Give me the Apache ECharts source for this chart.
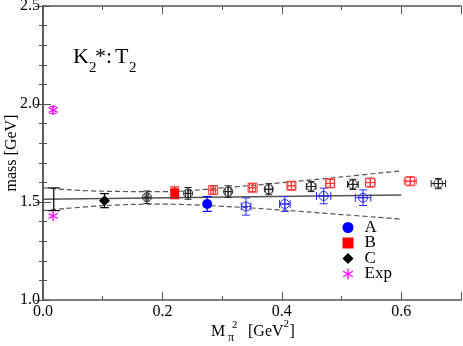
<!DOCTYPE html>
<html>
<head>
<meta charset="utf-8">
<script src="https://cdn.jsdelivr.net/npm/echarts@6/dist/echarts.min.js"></script>
<style>
html,body{margin:0;padding:0;background:#fff;}
#chart{width:463px;height:346px;}
</style>
</head>
<body>
<div id="chart"></div>
<script>
// chiral fit (solid) and its error band (dashed)
var fitX = [0, 0.6];
var fitY = [1.514, 1.536];
var bandX = [0, 0.1, 0.2, 0.3, 0.4, 0.5, 0.6];
var bandUp = [1.572, 1.555, 1.553, 1.572, 1.599, 1.628, 1.659];
var bandLo = [1.456, 1.481, 1.489, 1.478, 1.459, 1.436, 1.413];

// extrapolated value at the physical point
var physX = [0.018];
var physY = [1.514];
var physErr = [0.058];

// filled symbols
var aX = [0.275], aY = [1.490], aErr = [0.038];
var bX = [0.2205], bY = [1.547], bErr = [0.030];
var cX = [0.103], cY = [1.507], cErr = [0.036];
var expX = [0.017, 0.017], expY = [1.969, 1.429], expErr = [0.018, 0];

// open symbols (with x errors)
var oaX = [0.340, 0.405, 0.470, 0.536];
var oaY = [1.477, 1.490, 1.531, 1.522];
var oaDx = [0.008, 0.009, 0.012, 0.013];
var oaDy = [0.044, 0.038, 0.040, 0.040];

var obX = [0.285, 0.351, 0.416, 0.481, 0.548, 0.615];
var obY = [1.561, 1.573, 1.583, 1.595, 1.599, 1.606];
var obDx = [0.004, 0.005, 0.006, 0.007, 0.008, 0.010];
var obDy = [0.020, 0.020, 0.020, 0.020, 0.020, 0.020];

var ocX = [0.174, 0.243, 0.310, 0.378, 0.449, 0.519, 0.662];
var ocY = [1.524, 1.544, 1.553, 1.565, 1.579, 1.590, 1.594];
var ocDx = [0.003, 0.004, 0.005, 0.006, 0.008, 0.009, 0.012];
var ocDy = [0.032, 0.030, 0.030, 0.028, 0.026, 0.026, 0.026];

var serif = "'Liberation Serif', 'DejaVu Serif', serif";
var axisColor = '#555';
var astPath = 'path://M4.4,0L5.6,0L5.6,10L4.4,10Z' +
    'M0.97,1.98L9.63,6.98L9.03,8.02L0.37,3.02Z' +
    'M0.37,6.98L9.03,1.98L9.63,3.02L0.97,8.02Z';

function pack(xs, ys, dxs, dys) {
    return xs.map(function (x, i) {
        return [x, ys[i], dxs ? dxs[i] : 0, dys[i]];
    });
}

function errRender(color, marker, cap, lw) {
    return function (params, api) {
        var x = api.value(0), y = api.value(1), dx = api.value(2), dy = api.value(3);
        var c = api.coord([x, y]);
        var st = {stroke: color, lineWidth: lw, fill: null};
        var ch = [];
        if (dy > 0) {
            var t = api.coord([x, y + dy])[1], b = api.coord([x, y - dy])[1];
            ch.push({type: 'line', shape: {x1: c[0], y1: t, x2: c[0], y2: b}, style: st});
            ch.push({type: 'line', shape: {x1: c[0] - cap, y1: t, x2: c[0] + cap, y2: t}, style: st});
            ch.push({type: 'line', shape: {x1: c[0] - cap, y1: b, x2: c[0] + cap, y2: b}, style: st});
        }
        if (dx > 0) {
            var l = api.coord([x - dx, y])[0], r = api.coord([x + dx, y])[0];
            ch.push({type: 'line', shape: {x1: l, y1: c[1], x2: r, y2: c[1]}, style: st});
            ch.push({type: 'line', shape: {x1: l, y1: c[1] - cap, x2: l, y2: c[1] + cap}, style: st});
            ch.push({type: 'line', shape: {x1: r, y1: c[1] - cap, x2: r, y2: c[1] + cap}, style: st});
        }
        if (marker === 'circle') {
            ch.push({type: 'circle', shape: {cx: c[0], cy: c[1], r: 4.5}, style: st});
            ch.push({type: 'line', shape: {x1: c[0] - 4.5, y1: c[1], x2: c[0] + 4.5, y2: c[1]}, style: st});
            ch.push({type: 'line', shape: {x1: c[0], y1: c[1] - 4.5, x2: c[0], y2: c[1] + 4.5}, style: st});
        } else if (marker === 'square') {
            ch.push({type: 'rect', shape: {x: c[0] - 4.5, y: c[1] - 4.5, width: 9, height: 9}, style: st});
            ch.push({type: 'line', shape: {x1: c[0] - 4.5, y1: c[1], x2: c[0] + 4.5, y2: c[1]}, style: st});
            ch.push({type: 'line', shape: {x1: c[0], y1: c[1] - 4.5, x2: c[0], y2: c[1] + 4.5}, style: st});
        }
        return {type: 'group', children: ch};
    };
}

function errSeries(data, color, marker, cap, lw) {
    return {
        type: 'custom',
        renderItem: errRender(color, marker, cap, lw),
        data: data,
        encode: {x: 0, y: 1},
        silent: true,
        z: 3
    };
}

function axisLine() {
    return {show: true, lineStyle: {color: axisColor, width: 1.6}};
}

var xBase = {type: 'value', min: 0, max: 0.7, splitLine: {show: false}};

var chart = echarts.init(document.getElementById('chart'));
var option = {
    animation: false,
    backgroundColor: '#fff',
    grid: {left: 43, right: 2, top: 6, bottom: 46, containLabel: false, outerBoundsMode: 'none'},
    xAxis: [
        Object.assign({}, xBase, {
            position: 'bottom', interval: 0.1,
            axisLine: axisLine(),
            axisTick: {inside: true, length: 4, lineStyle: {color: axisColor}},
            axisLabel: {
                margin: 4, color: '#000', fontFamily: serif, fontSize: 16,
                formatter: function (v) {
                    var k = Math.round(v * 10);
                    return (k % 2 === 0 && k < 7) ? (k / 10).toFixed(1) : '';
                }
            }
        }),
        Object.assign({}, xBase, {
            position: 'bottom', interval: 0.2,
            axisLine: {show: false},
            axisTick: {inside: true, length: 8, lineStyle: {color: axisColor}},
            axisLabel: {show: false}
        }),
        Object.assign({}, xBase, {
            position: 'top', interval: 0.1,
            axisLine: axisLine(),
            axisTick: {inside: true, length: 4, lineStyle: {color: axisColor}},
            axisLabel: {show: false}
        }),
        Object.assign({}, xBase, {
            position: 'top', interval: 0.2,
            axisLine: {show: false},
            axisTick: {inside: true, length: 8, lineStyle: {color: axisColor}},
            axisLabel: {show: false}
        })
    ],
    yAxis: [
        {
            type: 'value', min: 1, max: 2.5, interval: 0.5, position: 'left',
            axisLine: axisLine(),
            axisTick: {inside: true, length: 8, lineStyle: {color: axisColor}},
            minorTick: {show: true, splitNumber: 5, length: 4, lineStyle: {color: axisColor}},
            splitLine: {show: false},
            axisLabel: {
                margin: 3, color: '#000', fontFamily: serif, fontSize: 16,
                formatter: function (v) { return v.toFixed(1); }
            },
            name: 'mass [GeV]', nameLocation: 'middle', nameGap: 23, nameMoveOverlap: false,
            nameTextStyle: {color: '#000', fontFamily: serif, fontSize: 16}
        },
        {
            type: 'value', min: 1, max: 2.5, interval: 0.5, position: 'right',
            axisLine: axisLine(),
            axisTick: {inside: true, length: 8, lineStyle: {color: axisColor}},
            minorTick: {show: true, splitNumber: 5, length: 4, lineStyle: {color: axisColor}},
            splitLine: {show: false},
            axisLabel: {show: false}
        }
    ],
    legend: {
        data: [
            {name: 'A', icon: 'circle'},
            {name: 'B', icon: 'rect'},
            {name: 'C', icon: 'diamond'},
            {name: 'Exp', icon: astPath}
        ],
        orient: 'vertical', left: 342.5, top: 219, padding: 0,
        itemWidth: 11, itemHeight: 11, itemGap: -1.5,
        selectedMode: false,
        textStyle: {color: '#000', fontFamily: serif, fontSize: 17, padding: [0, 0, 0, 6]}
    },
    graphic: [
        {type: 'group', silent: true, children: [
            {type: 'text', x: 73, y: 57.5, style: {text: 'K', font: '22px ' + serif, fill: '#000', verticalAlign: 'middle'}},
            {type: 'text', x: 89, y: 68, style: {text: '2', font: '15px ' + serif, fill: '#000', verticalAlign: 'middle'}},
            {type: 'text', x: 95, y: 57.5, style: {text: '*:', font: '22px ' + serif, fill: '#000', verticalAlign: 'middle'}},
            {type: 'text', x: 115, y: 57.5, style: {text: 'T', font: '22px ' + serif, fill: '#000', verticalAlign: 'middle'}},
            {type: 'text', x: 129, y: 68, style: {text: '2', font: '15px ' + serif, fill: '#000', verticalAlign: 'middle'}},

            {type: 'text', x: 211, y: 331.5, style: {text: 'M', font: '16px ' + serif, fill: '#000', verticalAlign: 'middle'}},
            {type: 'text', x: 228, y: 338, style: {text: 'π', font: '12px ' + serif, fill: '#000', verticalAlign: 'middle'}},
            {type: 'text', x: 232, y: 325, style: {text: '2', font: '11px ' + serif, fill: '#000', verticalAlign: 'middle'}},
            {type: 'text', x: 248, y: 331.5, style: {text: '[GeV', font: '16px ' + serif, fill: '#000', verticalAlign: 'middle'}},
            {type: 'text', x: 283.5, y: 324, style: {text: '2', font: '11px ' + serif, fill: '#000', verticalAlign: 'middle'}},
            {type: 'text', x: 289.5, y: 331.5, style: {text: ']', font: '16px ' + serif, fill: '#000', verticalAlign: 'middle'}}
        ]}
    ],
    series: [
        {
            type: 'line', smooth: 0.4, symbol: 'none', silent: true, z: 1,
            data: bandX.map(function (x, i) { return [x, bandUp[i]]; }),
            lineStyle: {color: '#555', width: 1.2, type: [5, 3]}
        },
        {
            type: 'line', smooth: 0.4, symbol: 'none', silent: true, z: 1,
            data: bandX.map(function (x, i) { return [x, bandLo[i]]; }),
            lineStyle: {color: '#555', width: 1.2, type: [5, 3]}
        },
        {
            type: 'line', symbol: 'none', silent: true, z: 1,
            data: fitX.map(function (x, i) { return [x, fitY[i]]; }),
            lineStyle: {color: '#555', width: 1.5}
        },
        errSeries(pack(physX, physY, null, physErr), '#000', 'none', 6, 1.2),
        errSeries(pack(ocX, ocY, ocDx, ocDy), '#222', 'circle', 3.5, 1),
        errSeries(pack(obX, obY, obDx, obDy), '#ff3333', 'square', 3.5, 1),
        errSeries(pack(oaX, oaY, oaDx, oaDy), '#2a2aff', 'circle', 4, 1),
        errSeries(pack(aX, aY, null, aErr), '#0000ff', 'none', 4.5, 1.2),
        errSeries(pack(bX, bY, null, bErr), '#ff0000', 'none', 4.5, 1.2),
        errSeries(pack(cX, cY, null, cErr), '#000', 'none', 4.5, 1.2),
        errSeries(pack(expX, expY, null, expErr), '#ff00ff', 'none', 3.5, 1),
        {
            name: 'A', type: 'scatter', symbol: 'circle', symbolSize: 10, z: 4,
            itemStyle: {color: '#0000ff', opacity: 1},
            data: aX.map(function (x, i) { return [x, aY[i]]; })
        },
        {
            name: 'B', type: 'scatter', symbol: 'rect', symbolSize: 9, z: 4,
            itemStyle: {color: '#ff0000', opacity: 1},
            data: bX.map(function (x, i) { return [x, bY[i]]; })
        },
        {
            name: 'C', type: 'scatter', symbol: 'diamond', symbolSize: 11, z: 4,
            itemStyle: {color: '#000', opacity: 1},
            data: cX.map(function (x, i) { return [x, cY[i]]; })
        },
        {
            name: 'Exp', type: 'scatter', symbol: astPath, symbolSize: 10, z: 4,
            itemStyle: {color: '#ff00ff', opacity: 1},
            data: expX.map(function (x, i) { return [x, expY[i]]; })
        }
    ]
};
chart.setOption(option);
</script>
</body>
</html>
